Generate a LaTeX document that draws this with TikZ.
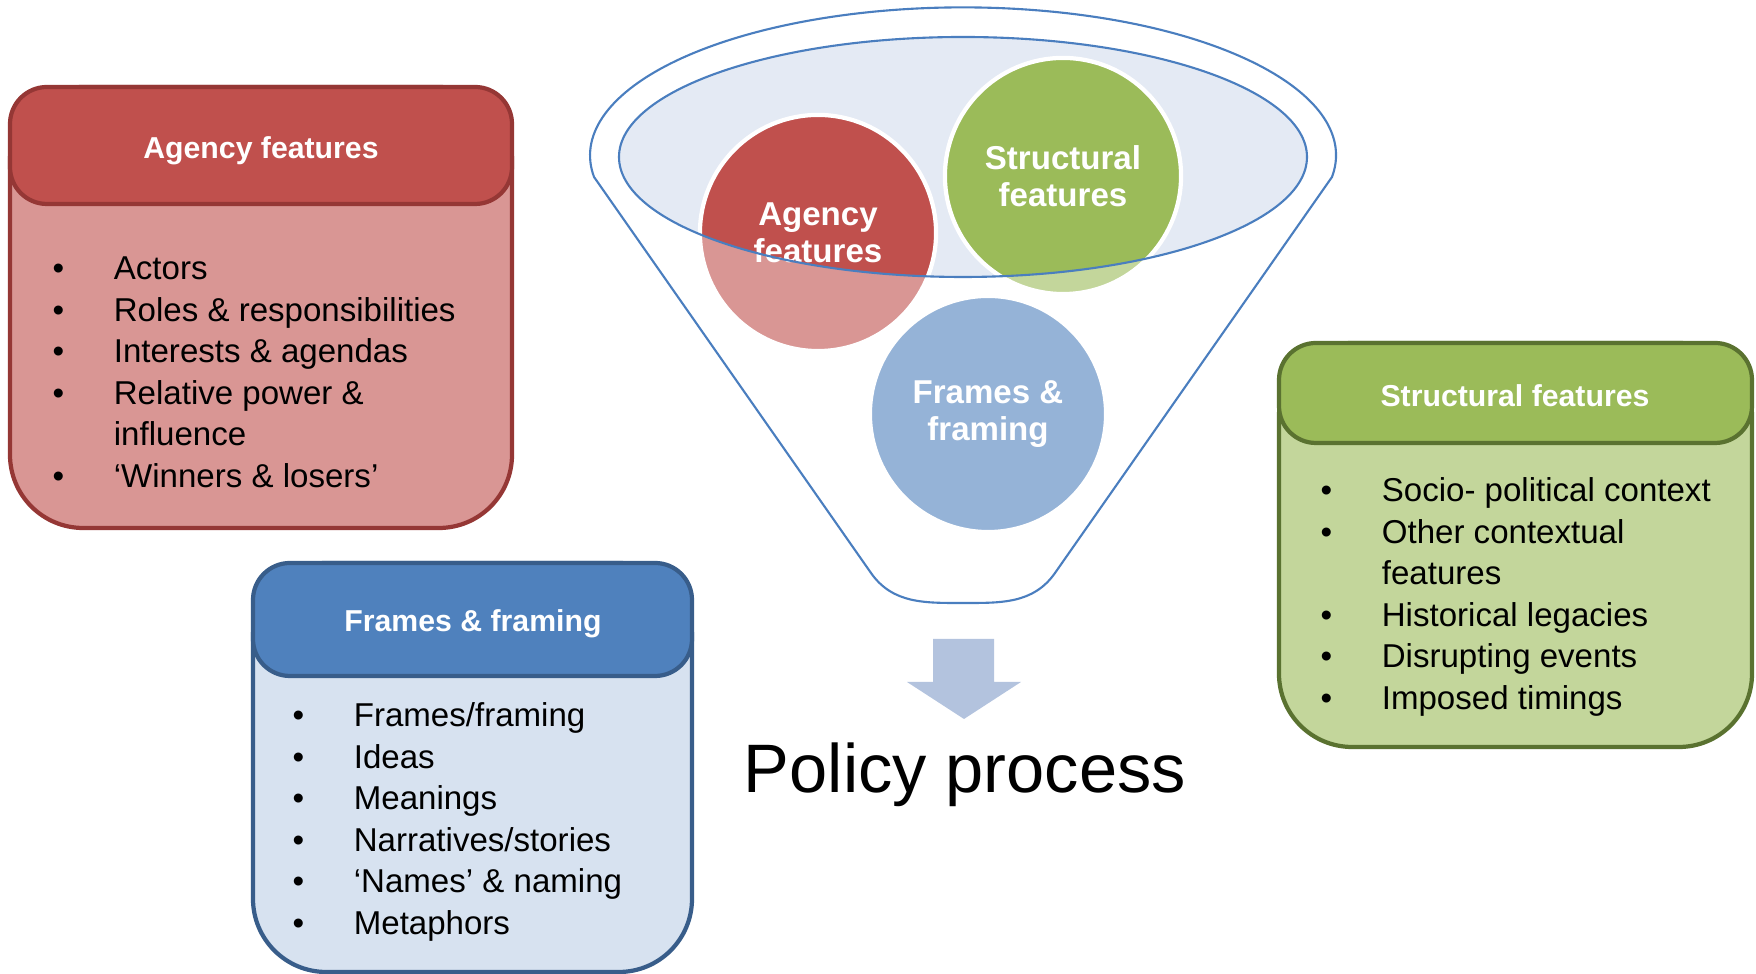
\documentclass[tikz,border=0pt]{standalone}
\usepackage{fontspec}
\setmainfont{Liberation Sans}
\usetikzlibrary{calc}

\definecolor{agencyfill}{HTML}{C0504D}
\definecolor{agencyline}{HTML}{953735}
\definecolor{agencybody}{HTML}{D99694}
\definecolor{framefill}{HTML}{4F81BD}
\definecolor{frameline}{HTML}{385D8A}
\definecolor{framebody}{HTML}{D7E2F0}
\definecolor{structfill}{HTML}{9BBB59}
\definecolor{structline}{HTML}{5A7230}
\definecolor{structbody}{HTML}{C3D69B}
\definecolor{funnelline}{HTML}{4A7EBF}
\definecolor{funnelrim}{HTML}{E4EAF4}
\definecolor{arrowfill}{HTML}{B3C3DE}

\newcommand{\listbul}{\textbullet &}
\newcommand{\itemlist}[1]{\begin{tabular}[t]{@{}p{17.4pt}@{}l@{}}#1\end{tabular}}

\tikzset{
  boxbody/.style={line width=1.2pt, rounded corners=20.8pt},
  boxhead/.style={line width=1.2pt, rounded corners=10.5pt},
  headtext/.style={anchor=base, inner sep=0pt, text=white, font=\fontsize{8.6}{10.4}\selectfont\bfseries},
  listtext/.style={anchor=base west, inner sep=0pt, font=\fontsize{9.4}{11.8}\selectfont},
  bubble/.style={circle, minimum size=2.36cm, inner sep=0pt, draw=white, line width=1.2pt, text=white, align=center, font=\fontsize{9.4}{10.5}\selectfont\bfseries},
  funnel/.style={draw=funnelline, line width=0.6pt},
}

\begin{document}
\begin{tikzpicture}[x=0.01cm, y=-0.01cm]
		\useasboundingbox (0,0) rectangle (1756,974);
		%%%%% FUNNEL %%%%%
		\coordinate (kinkl) at (594,177);
		\coordinate (kinkr) at (1332,177);
		\coordinate (botl) at (871,573);
		\coordinate (bot) at (963,603);
		\coordinate (botr) at (1055,573);
		
		\fill[funnelrim] (963,157) ellipse [x radius=344, y radius=120];
		
		\node[bubble, fill=agencyfill] (agencyc) at (818,233) {Agency\\features};
		\node[bubble, fill=structfill] (structc) at (1063,176) {Structural\\features};
		\node[bubble, fill=framefill] (framec) at (988,414) {Frames \&\\framing};
		
		\fill[white, fill opacity=0.4, even odd rule] (kinkr) arc[start angle=8.4, end angle=-188.4, x radius=373, y radius=148] -- (botl) to[out=-55, in=180] (bot) to[out=0, in=-125] (botr) -- cycle (963,157) ellipse [x radius=344, y radius=120];
		\draw[funnel] (kinkr) arc[start angle=8.4, end angle=-188.4, x radius=373, y radius=148] -- (botl) to[out=-55, in=180] (bot) to[out=0, in=-125] (botr) -- cycle;
		\draw[funnel] (963,157) ellipse [x radius=344, y radius=120];
		
		%%%%% ARROW %%%%%
		\fill[arrowfill] (933,639) -- (994,639) -- (994,682) -- (1021,682) -- (964,719) -- (907,682) -- (933,682) -- cycle;
		\node[anchor=base, inner sep=0pt, font=\fontsize{19.5}{23}\selectfont] (policy) at (965,793) {Policy process};
		
		%%%%% AGENCY BOX %%%%%
		\draw[boxbody, draw=agencyline, fill=agencybody] (10,87) rectangle (512,528);
		\draw[boxhead, draw=agencyline, fill=agencyfill] (10,87) rectangle (512,204);
		\node[headtext] (agencyhead) at (261,159) {Agency features};
		\node[listtext] (agencylist) at (52,280) {\itemlist{
			\listbul Actors\\
			\listbul Roles \& responsibilities\\
			\listbul Interests \& agendas\\
			\listbul Relative power \&\\
			& influence\\
			\listbul ‘Winners \& losers’}};
		
		%%%%% FRAMES BOX %%%%%
		\draw[boxbody, draw=frameline, fill=framebody] (253,563) rectangle (692,972);
		\draw[boxhead, draw=frameline, fill=framefill] (253,563) rectangle (692,676);
		\node[headtext] (framehead) at (473,632) {Frames \& framing};
		\node[listtext] (framelist) at (292,727) {\itemlist{
			\listbul Frames/framing\\
			\listbul Ideas\\
			\listbul Meanings\\
			\listbul Narratives/stories\\
			\listbul ‘Names’ \& naming\\
			\listbul Metaphors}};
		
		%%%%% STRUCTURAL BOX %%%%%
		\draw[boxbody, draw=structline, fill=structbody] (1279,343) rectangle (1752,747);
		\draw[boxhead, draw=structline, fill=structfill] (1279,343) rectangle (1752,443);
		\node[headtext] (structhead) at (1515,407) {Structural features};
		\node[listtext] (structlist) at (1320,502) {\itemlist{
			\listbul Socio- political context\\
			\listbul Other contextual\\
			& features\\
			\listbul Historical legacies\\
			\listbul Disrupting events\\
			\listbul Imposed timings}};
	\end{tikzpicture}
\end{document}
